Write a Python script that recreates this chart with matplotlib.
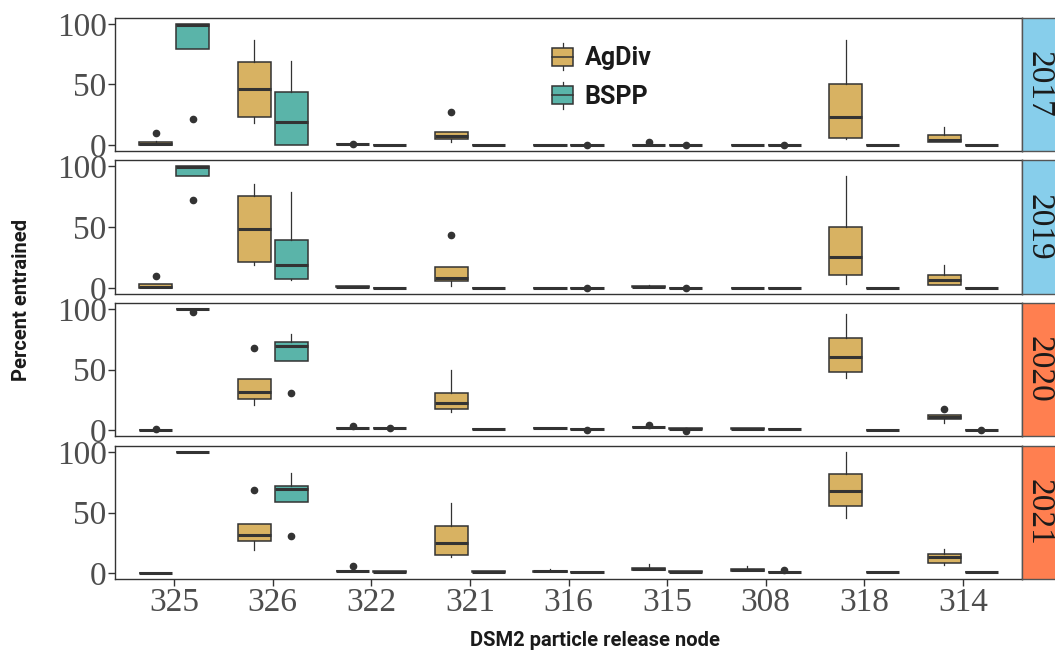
import numpy as np
import matplotlib
matplotlib.use("Agg")
import matplotlib.pyplot as plt
from matplotlib.patches import Rectangle, Patch
from matplotlib.lines import Line2D
from matplotlib.legend_handler import HandlerBase

# ------------------------------------------------------------
# Data: box stats per year x node
# ------------------------------------------------------------
nodes = ['325', '326', '322', '321', '316', '315', '308', '318', '314']
years = ['2017', '2019', '2020', '2021']
strip_colors = ['#87CEEB', '#87CEEB', '#FF7F50', '#FF7F50']

# AgDiv
agdiv_q1 = [[0, 23.5, 0.5, 5, 0, 0, 0, 6, 2.8],
            [0, 21, 0.5, 5.5, 0, 0.8, 0, 10.4, 2.2],
            [0, 25.6, 1.4, 17.4, 1.4, 2.5, 0.5, 48, 9.1],
            [0, 26.5, 2, 14.7, 1, 2.3, 1.8, 55, 8.6]]
agdiv_med = [[0.8, 46, 0.5, 7, 0, 0, 0, 23, 4],
             [0.5, 48.2, 1, 8.5, 0, 1, 0, 25.5, 6.3],
             [0, 31.4, 1.4, 22, 1.4, 2.5, 1, 60, 10.5],
             [0, 31, 2, 24.9, 1.5, 3, 2.5, 68, 13.3]]
agdiv_q3 = [[2.8, 69, 0.5, 11, 0, 0, 0, 50, 8.3],
            [2.8, 75.3, 1.5, 17.3, 0, 1.2, 0, 49.6, 11],
            [0, 41.9, 1.4, 30.8, 1.4, 2.5, 1.5, 75.8, 12.4],
            [0, 40.6, 2, 38.7, 2, 3.7, 3, 82, 16]]
agdiv_lo = [[0, 18, 0.5, 2.7, 0, 0, 0, 4.7, 2.8],
            [0, 18.7, 0.5, 1.4, 0, 0.8, 0, 3.6, 2.2],
            [0, 20.7, 1.4, 15, 1.4, 2.5, 0.5, 42.7, 6],
            [0, 18.8, 2, 12.8, 1, 2.3, 1.8, 45.6, 6.4]]
agdiv_hi = [[3, 87, 0.5, 11, 0, 0, 0, 87, 14.6],
            [2.8, 85, 1.5, 17.3, 0, 2.2, 0, 92, 19.2],
            [0, 41.9, 1.4, 49.6, 1.4, 2.5, 1.5, 95.6, 12.4],
            [0, 40.6, 2, 57.5, 3, 7.8, 6, 99.7, 19.4]]
agdiv_fliers = [[[10.2], [], [1.0], [27.6], [], [2.8], [], [], []],
                [[9.9], [], [], [43.5], [], [], [], [], []],
                [[0.5], [67.5], [3.3], [], [], [4.4], [], [], [17.4]],
                [[], [68.5], [5.8], [], [], [], [], [], []]]

# BSPP
bspp_q1 = [[79.3, 0, 0, 0, 0, 0, 0, 0, 0],
           [91.8, 7.7, 0, 0, 0, 0, 0, 0, 0],
           [100, 57.3, 1.4, 0.5, 0.5, 0.8, 0.5, 0, 0.3],
           [100, 58.3, 0.5, 0.5, 0.5, 0.5, 1, 0.5, 0.5]]
bspp_med = [[99.5, 19, 0, 0, 0, 0, 0, 0, 0],
            [99.5, 18.4, 0, 0, 0, 0, 0, 0, 0],
            [100, 69.4, 1.4, 0.5, 0.5, 1.2, 0.5, 0, 0.3],
            [100, 69.1, 1, 1, 0.5, 1, 1, 0.5, 0.5]]
bspp_q3 = [[100, 44, 0, 0, 0, 0, 0, 0, 0],
           [100, 39.2, 0, 0, 0, 0, 0, 0, 0],
           [100, 73, 1.4, 0.5, 0.5, 1.5, 0.5, 0, 0.3],
           [100, 71.8, 1.5, 1.5, 0.5, 1.5, 1, 0.5, 0.5]]
bspp_lo = [[79.3, 0, 0, 0, 0, 0, 0, 0, 0],
           [91.8, 6.3, 0, 0, 0, 0, 0, 0, 0],
           [100, 57.3, 1.4, 0.5, 0.5, 0.8, 0.5, 0, 0.3],
           [100, 58.3, 0.5, 0.5, 0.5, 0.5, 1, 0.5, 0.5]]
bspp_hi = [[100, 69.6, 0, 0, 0, 0, 0, 0, 0],
           [100, 78.6, 0, 0, 0, 0, 0, 0, 0],
           [100, 79, 1.4, 0.5, 0.5, 1.5, 0.5, 0, 0.3],
           [100, 82.4, 1.5, 1.5, 0.5, 1.5, 1, 0.5, 0.5]]
bspp_fliers = [[[21.5], [], [], [], [0.1], [0.1], [0.1], [], []],
               [[72], [], [], [], [-0.2], [-0.2], [], [], []],
               [[97.8], [30.8], [1.6], [], [0], [-0.5], [], [], [0]],
               [[], [30.4], [], [], [], [], [2.5], [], []]]

# ------------------------------------------------------------
# Style
# ------------------------------------------------------------
agdiv_color = '#D8B262'
bspp_color = '#5AB4A9'
edge = '#333333'
serif = ['Liberation Serif', 'DejaVu Serif']
narrow = ['Liberation Sans Narrow', 'Roboto', 'DejaVu Sans']

W, H = 1055, 654
fig = plt.figure(figsize=(W / 100, H / 100), dpi=100)

left_px, right_px = 115, 1022
panel_px = [(18, 151), (160, 294), (303, 436), (446, 579)]
strip_w = 38


def fig_rect(x0, x1, y0, y1):
    return [x0 / W, 1 - y1 / H, (x1 - x0) / W, (y1 - y0) / H]


def make_stats(q1, med, q3, lo, hi, fl, i):
    out = []
    for j in range(len(nodes)):
        out.append(dict(q1=q1[i][j], med=med[i][j], q3=q3[i][j],
                        whislo=lo[i][j], whishi=hi[i][j],
                        fliers=np.array(fl[i][j])))
    return out


def draw_boxes(ax, stats, pos, color):
    ax.bxp(stats, positions=pos, widths=0.3375, patch_artist=True,
           showcaps=False, manage_ticks=False,
           boxprops=dict(facecolor=color, edgecolor=edge, linewidth=1.1),
           medianprops=dict(color=edge, linewidth=2.2),
           whiskerprops=dict(color=edge, linewidth=0.9),
           flierprops=dict(marker='o', markerfacecolor=edge,
                           markeredgecolor=edge, markersize=4.5))


x = np.arange(1, len(nodes) + 1)
axes = []
for i, yr in enumerate(years):
    top, bot = panel_px[i]
    ax = fig.add_axes(fig_rect(left_px, right_px, top, bot))
    axes.append(ax)

    draw_boxes(ax, make_stats(agdiv_q1, agdiv_med, agdiv_q3, agdiv_lo,
                              agdiv_hi, agdiv_fliers, i),
               x - 0.1875, agdiv_color)
    draw_boxes(ax, make_stats(bspp_q1, bspp_med, bspp_q3, bspp_lo,
                              bspp_hi, bspp_fliers, i),
               x + 0.1875, bspp_color)

    ax.set_xlim(0.4, len(nodes) + 0.6)
    ax.set_ylim(-5, 105)
    ax.set_yticks([0, 50, 100])
    ax.set_xticks(x)
    for s in ax.spines.values():
        s.set_color(edge)
        s.set_linewidth(1.0)
    ax.tick_params(axis='both', length=5, width=1.0, color=edge,
                   labelcolor='#4D4D4D', labelsize=24, pad=1)
    for lab in ax.get_yticklabels():
        lab.set_family(serif)
    if i < len(years) - 1:
        ax.tick_params(axis='x', bottom=False, labelbottom=False)
    else:
        ax.set_xticklabels(nodes, family=serif)

    # facet strip on the right
    sax = fig.add_axes(fig_rect(right_px, right_px + strip_w, top, bot))
    sax.set_facecolor(strip_colors[i])
    sax.set_xticks([])
    sax.set_yticks([])
    for s in sax.spines.values():
        s.set_color('#555555')
        s.set_linewidth(1.0)
    sax.text(0.45, 0.5, yr, rotation=270, ha='center', va='center',
             family=serif, fontsize=24, color='#1A1A1A',
             transform=sax.transAxes)


# ------------------------------------------------------------
# Legend with boxplot-like keys
# ------------------------------------------------------------
class BoxKey(HandlerBase):
    def create_artists(self, legend, orig_handle, xdescent, ydescent,
                       width, height, fontsize, trans):
        x0, y0 = -xdescent, -ydescent
        fc = orig_handle.get_facecolor()
        bh = 0.66 * height
        by = y0 + (height - bh) / 2
        xc = x0 + width / 2
        box = Rectangle((x0, by), width, bh, facecolor=fc, edgecolor=edge,
                        linewidth=1.1, transform=trans)
        med = Line2D([x0, x0 + width], [by + bh / 2] * 2, color=edge,
                     linewidth=1.1, transform=trans)
        w1 = Line2D([xc, xc], [by + bh, y0 + height], color=edge,
                    linewidth=0.9, transform=trans)
        w2 = Line2D([xc, xc], [y0, by], color=edge, linewidth=0.9,
                    transform=trans)
        return [w1, w2, box, med]


handles = [Patch(facecolor=agdiv_color), Patch(facecolor=bspp_color)]
leg = fig.legend(handles, ['AgDiv', 'BSPP'],
                 handler_map={Patch: BoxKey()},
                 loc='upper left', bbox_to_anchor=(552 / W, 1 - 43 / H),
                 frameon=False, borderpad=0, borderaxespad=0,
                 handlelength=0.85, handleheight=1.3, handletextpad=0.45,
                 labelspacing=0.45,
                 prop=dict(family=narrow, weight='bold', size=18))
for t in leg.get_texts():
    t.set_color('#1A1A1A')

# Axis titles
fig.text(595 / W, 1 - 641 / H, 'DSM2 particle release node', ha='center',
         va='center', family=narrow, weight='bold', fontsize=14.5,
         color='#1A1A1A')
fig.text(22 / W, 1 - 300 / H, 'Percent entrained', ha='center', va='center',
         rotation=90, family=narrow, weight='bold', fontsize=14.5,
         color='#1A1A1A')

fig.savefig('out.png', dpi=100)
plt.close(fig)
